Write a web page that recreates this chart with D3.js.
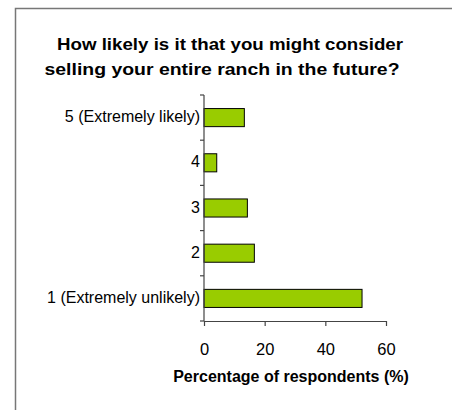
<!DOCTYPE html>
<html>
<head>
<meta charset="utf-8">
<script src="https://cdn.jsdelivr.net/npm/d3@7"></script>
<style>
  html, body { margin: 0; padding: 0; background: #fff; }
  svg { display: block; font-family: Arial, "Liberation Sans", sans-serif; }
</style>
</head>
<body>
<script>
// Survey responses: likelihood of selling the entire ranch
const categories = ["5 (Extremely likely)", "4", "3", "2", "1 (Extremely unlikely)"];
const percentages = [13.3, 4.2, 14.3, 16.6, 52.1];
const xTicks = [0, 20, 40, 60];
const titleLines = ["How likely is it that you might consider", "selling your entire ranch in the future?"];
const xTitle = "Percentage of respondents (%)";

const W = 452, H = 410;
const FONT = "Arial, 'Liberation Sans', sans-serif";
const svg = d3.select("body").append("svg").attr("width", W).attr("height", H);

// chart frame
svg.append("path")
  .attr("d", `M15.5,${H} V8.5 H${W}`)
  .attr("fill", "none").attr("stroke", "#777").attr("stroke-width", 1.5);

const plot = { left: 204, right: 386, top: 95, bottom: 321 };

const x = d3.scaleLinear().domain([0, 60]).range([plot.left, plot.right]);
const y = d3.scaleBand().domain(categories).range([plot.top, plot.bottom]).paddingInner(0.6).paddingOuter(0.3);

// title, two lines
const titleLayout = [{ x: 57, y: 50, len: 346 }, { x: 44.5, y: 74.5, len: 355 }];
svg.append("g").selectAll("text").data(titleLines).join("text")
  .attr("x", (d, i) => titleLayout[i].x)
  .attr("y", (d, i) => titleLayout[i].y)
  .attr("textLength", (d, i) => titleLayout[i].len)
  .attr("lengthAdjust", "spacingAndGlyphs")
  .attr("font-weight", "bold").attr("font-size", 17).attr("fill", "#000")
  .text(d => d);

// bars
svg.append("g").selectAll("rect").data(categories).join("rect")
  .attr("x", x(0))
  .attr("y", d => y(d))
  .attr("width", (d, i) => x(percentages[i]) - x(0))
  .attr("height", y.bandwidth())
  .attr("fill", "#99CC00")
  .attr("stroke", "#000").attr("stroke-width", 1);

// y axis: line with ticks at band boundaries
const yAxis = svg.append("g");
yAxis.append("line")
  .attr("x1", plot.left).attr("x2", plot.left)
  .attr("y1", plot.top).attr("y2", plot.bottom)
  .attr("stroke", "#444").attr("stroke-width", 1.2);
const boundaries = d3.range(categories.length + 1).map(i => plot.top + i * (plot.bottom - plot.top) / categories.length);
yAxis.selectAll("line.tick").data(boundaries).join("line")
  .attr("class", "tick")
  .attr("x1", plot.left - 4).attr("x2", plot.left)
  .attr("y1", d => d).attr("y2", d => d)
  .attr("stroke", "#444").attr("stroke-width", 1.2);
yAxis.selectAll("text").data(categories).join("text")
  .attr("x", plot.left - 4)
  .attr("y", d => y(d) + y.bandwidth() / 2 - 1)
  .attr("dy", "0.35em")
  .attr("text-anchor", "end")
  .attr("font-size", 16).attr("fill", "#000")
  .text(d => d);

// x axis
const xAxis = svg.append("g").attr("transform", `translate(0,${plot.bottom})`)
  .call(d3.axisBottom(x).tickValues(xTicks).tickSize(5).tickSizeOuter(0).tickPadding(17));
xAxis.select(".domain").attr("stroke", "#444").attr("stroke-width", 1.2);
xAxis.selectAll(".tick line").attr("stroke", "#444").attr("stroke-width", 1.2);
xAxis.selectAll(".tick text").attr("font-size", 16.5).attr("fill", "#000")
  .attr("font-family", FONT);

svg.append("text")
  .attr("x", 291).attr("y", 382)
  .attr("text-anchor", "middle")
  .attr("font-weight", "bold").attr("font-size", 16).attr("fill", "#000")
  .text(xTitle);
</script>
</body>
</html>
